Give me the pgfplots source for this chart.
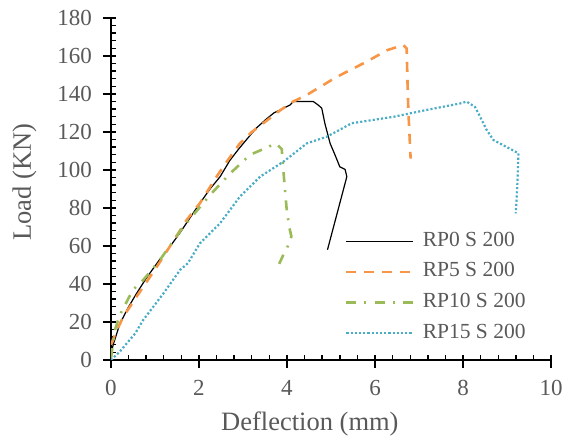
\documentclass[border=0pt]{standalone}
\usepackage{pgfplots}
\pgfplotsset{compat=1.18}
\usepackage{fontspec}
\setmainfont{Liberation Serif}

\definecolor{txt}{HTML}{595959}
\definecolor{rpfive}{HTML}{F79646}
\definecolor{rpten}{HTML}{9BBB59}
\definecolor{rpfifteen}{HTML}{4BACC6}

\begin{document}
\begin{tikzpicture}
\useasboundingbox (-111pt,-79pt) rectangle (457pt,360pt);
\begin{axis}[
  at={(0pt,0pt)}, anchor=south west,
  scale only axis, width=440pt, height=342pt,
  xmin=0, xmax=10, ymin=0, ymax=180,
  xtick={0,2,...,10}, ytick={0,20,...,180},
  minor x tick num=4, minor y tick num=4,
  axis lines=left,
  axis line style={-, line width=1.4pt, black},
  tick align=inside,
  major tick length=13pt, minor tick length=5pt,
  tick style={line width=1.4pt, black},
  major x tick style={yshift=-8pt},
  major y tick style={xshift=-8pt},
  /pgf/number format/assume math mode=true,
  ticklabel style={font=\fontsize{23}{27}\selectfont, text=txt},
  xticklabel style={anchor=north, inner sep=0pt, yshift=-20pt},
  yticklabel style={anchor=east, inner sep=0pt, xshift=-19pt},
  xlabel={Deflection (mm)},
  ylabel={Load (KN)},
  xlabel style={at={(axis description cs:0.452,-0.2076)}, anchor=base,
    font=\fontsize{26.5}{30}\selectfont, text=txt},
  ylabel style={at={(axis description cs:-0.1966,0.52)}, anchor=center,
    font=\fontsize{26.5}{30}\selectfont, text=txt},
  legend image code/.code={\draw[#1] (0pt,0pt) -- (67pt,0pt);},
  legend cell align=left,
  legend style={draw=none, fill=none, at={(axis cs:5.318,67.9)}, anchor=north west,
    font=\fontsize{21.5}{25}\selectfont, text=txt, inner sep=0pt,
    row sep=10.7pt, column sep=8pt,
    nodes={inner sep=0pt, text height=15pt, text depth=5pt}},
]

% RP0 S 200
\addplot[black, line width=1.2pt, line join=round] coordinates {
 (0,3) (0.05,8) (0.2,19) (0.4,28) (0.58,35) (0.8,43) (1.11,53) (1.35,60)
 (1.57,67) (1.8,75) (2.02,82.5) (2.25,90) (2.48,96.5) (2.70,105) (2.9,111)
 (3.08,116) (3.3,122) (3.54,127) (3.7,130) (3.84,131.6) (4.07,134.2)
 (4.14,136) (4.6,136) (4.72,134) (4.79,132.5) (4.86,124.6) (4.98,114)
 (5.09,108) (5.2,101.7) (5.32,100.3) (5.36,96.5) (4.92,58)
};
\addlegendentry{RP0 S 200}

% RP5 S 200
\addplot[rpfive, line width=2.6pt, dash pattern=on 10pt off 8pt, line join=round] coordinates {
 (0,8) (0.1,14) (0.28,22.8) (0.58,33.3) (1.04,49) (1.4,62) (1.72,73.7)
 (2.02,82.5) (2.40,96.5) (2.65,105) (2.93,114) (3.2,120) (3.54,126)
 (3.85,131.5) (4.14,136) (4.45,139.5) (5.13,149) (5.81,157) (6.27,163)
 (6.64,165.8) (6.72,164) (6.74,145) (6.76,130) (6.81,106)
};
\addlegendentry{RP5 S 200}

% RP10 S 200
\addplot[rpten, line width=2.6pt, dash pattern=on 10pt off 8pt on 2pt off 8.3pt, line join=round] coordinates {
 (0,1) (0.09,15.8) (0.2,23.7) (0.5,37) (0.73,42) (1.11,52.6) (1.64,70)
 (2.25,86.8) (2.70,98) (3.16,108) (3.46,111) (3.75,114) (3.88,111)
 (3.92,99) (3.99,80) (4.05,70) (4.1,65) (4.02,60) (3.95,57) (3.77,48)
};
\addlegendentry{RP10 S 200}

% RP15 S 200
\addplot[rpfifteen, line width=2.2pt, dash pattern=on 2.1pt off 2.1pt, line join=round] coordinates {
 (0,0) (0.2,4.4) (0.55,14) (0.73,21) (1.19,35) (1.57,47.4) (1.75,51)
 (2.02,61.4) (2.48,72) (2.93,86) (3.39,96.5) (3.92,104.4) (4.45,114)
 (4.9,117.5) (5.05,119.3) (5.47,124.6) (6.42,128) (7.17,131.6) (7.93,135)
 (8.08,136) (8.27,133.3) (8.39,128) (8.54,121) (8.69,115.8) (9.0,112)
 (9.26,108.8) (9.24,94.7) (9.2,77.2)
};
\addlegendentry{RP15 S 200}

\end{axis}
\end{tikzpicture}
\end{document}
